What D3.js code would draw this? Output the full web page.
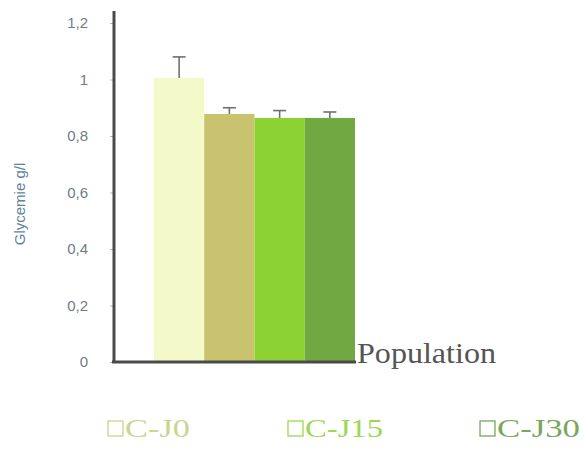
<!DOCTYPE html>
<html>
<head>
<meta charset="utf-8">
<script src="https://cdn.jsdelivr.net/npm/d3@7"></script>
<style>
  html, body { margin: 0; padding: 0; background: #fff; }
  svg { display: block; }
</style>
</head>
<body>
<svg id="chart" width="585" height="449"></svg>
<script>
// Glycemia by group (g/l) with standard-error caps
const groups = ["T", "C-J0", "C-J15", "C-J30"];
const glycemia = [1.005, 0.878, 0.864, 0.864];
const errors = [0.075, 0.022, 0.026, 0.021];
const yTicks = [0, 0.2, 0.4, 0.6, 0.8, 1, 1.2];
const tickLabels = ["0", "0,2", "0,4", "0,6", "0,8", "1", "1,2"];
const barColors = ["#f3f9c9", "#c9c26f", "#8bd232", "#72a842"];
const legendItems = ["C-J0", "C-J15", "C-J30"];
const legendColors = ["#ccd590", "#9bd855", "#78a85c"];

const svg = d3.select("#chart");

const y = d3.scaleLinear().domain([0, 1.2]).range([362, 23]);
const x = d3.scaleBand().domain(groups).range([154, 355]).paddingInner(0).paddingOuter(0);

// Bars
svg.append("g").selectAll("rect")
  .data(groups)
  .join("rect")
  .attr("x", d => x(d))
  .attr("width", x.bandwidth())
  .attr("y", (d, i) => y(glycemia[i]))
  .attr("height", (d, i) => y(0) - y(glycemia[i]))
  .attr("fill", (d, i) => barColors[i]);

// Error bars (upper only)
const err = svg.append("g").attr("stroke", "#707070").attr("stroke-width", 1.6);
groups.forEach((g, i) => {
  const cx = x(g) + x.bandwidth() / 2;
  err.append("line")
    .attr("x1", cx).attr("x2", cx)
    .attr("y1", y(glycemia[i])).attr("y2", y(glycemia[i] + errors[i]));
  err.append("line")
    .attr("x1", cx - 6.5).attr("x2", cx + 6.5)
    .attr("y1", y(glycemia[i] + errors[i])).attr("y2", y(glycemia[i] + errors[i]));
});

// Y axis
const yAxis = d3.axisLeft(y)
  .tickValues(yTicks)
  .tickFormat((d, i) => tickLabels[i])
  .tickSize(4)
  .tickPadding(22);
const ya = svg.append("g").attr("transform", "translate(114,0)").call(yAxis);
ya.select(".domain").remove();
ya.selectAll(".tick line").attr("stroke", "#b8b8b8");
ya.selectAll(".tick text")
  .attr("fill", "#707c88")
  .style("font-family", "'Liberation Sans', Arial, sans-serif")
  .style("font-size", "15px");

// Axis lines
svg.append("line")
  .attr("x1", 114).attr("x2", 114)
  .attr("y1", 11).attr("y2", y(0) + 1)
  .attr("stroke", "#4a4a4a").attr("stroke-width", 3);
svg.append("line")
  .attr("x1", 112).attr("x2", 356)
  .attr("y1", y(0)).attr("y2", y(0))
  .attr("stroke", "#4a4a4a").attr("stroke-width", 3);

// Y axis title
svg.append("text")
  .attr("transform", "translate(25,204) rotate(-90)")
  .attr("text-anchor", "middle")
  .attr("fill", "#62829c")
  .style("font-family", "'Liberation Sans', Arial, sans-serif")
  .style("font-size", "15px")
  .text("Glycemie g/l");

// X axis title
svg.append("text")
  .attr("x", 357).attr("y", 363)
  .attr("fill", "#555")
  .attr("textLength", 139)
  .attr("lengthAdjust", "spacingAndGlyphs")
  .style("font-family", "'Liberation Serif', 'DejaVu Serif', serif")
  .style("font-size", "29px")
  .text("Population");

// Legend
const legendX = [108, 288, 480];
const legendWidths = [65, 78, 83];
const lg = svg.append("g");
legendItems.forEach((t, i) => {
  lg.append("rect")
    .attr("x", legendX[i]).attr("y", 421)
    .attr("width", 15).attr("height", 15)
    .attr("fill", "none")
    .attr("stroke", legendColors[i]).attr("stroke-width", 1.3);
  lg.append("text")
    .attr("x", legendX[i] + 17).attr("y", 437)
    .attr("fill", legendColors[i])
    .attr("textLength", legendWidths[i])
    .attr("lengthAdjust", "spacingAndGlyphs")
    .style("font-family", "'Liberation Serif', 'DejaVu Serif', serif")
    .style("font-size", "25px")
    .text(t);
});
</script>
</body>
</html>
